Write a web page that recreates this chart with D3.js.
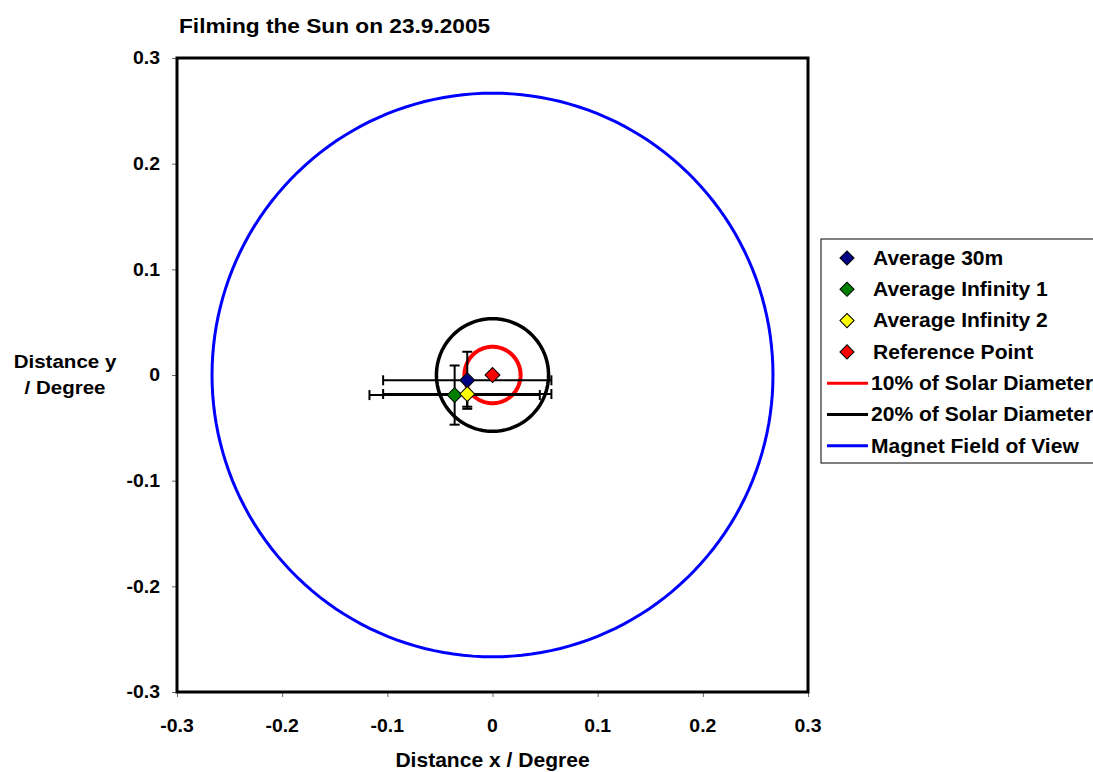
<!DOCTYPE html>
<html>
<head>
<meta charset="utf-8">
<script src="https://cdn.jsdelivr.net/npm/d3@7/dist/d3.min.js"></script>
<style>
  html, body { margin: 0; padding: 0; background: #fff; }
  svg { display: block; font-family: "Liberation Sans", Arial, sans-serif; font-weight: bold; }
</style>
</head>
<body>
<svg id="chart" width="1093" height="772"></svg>
<script>
// Measured pointing offsets (degrees) with their spread
const seriesNames = ["Average 30m", "Average Infinity 1", "Average Infinity 2", "Reference Point"];
const seriesColors = ["#000080", "#008000", "#ffff00", "#ff0000"];
const xValues = [-0.024, -0.036, -0.024, 0];
const yValues = [-0.005, -0.019, -0.018, 0];
const xErrors = [0.080, 0.081, 0.080, 0];
const yErrors = [0.027, 0.028, 0.012, 0];

// Reference circles around the centre (radius in degrees)
const circleNames = ["10% of Solar Diameter", "20% of Solar Diameter", "Magnet Field of View"];
const circleRadii = [0.0267, 0.0533, 0.2667];
const circleColors = ["#ff0000", "#000000", "#0000ff"];
const circleWidths = [4, 3.5, 3];

const tickValues = [-0.3, -0.2, -0.1, 0, 0.1, 0.2, 0.3];
const tickLabels = ["-0.3", "-0.2", "-0.1", "0", "0.1", "0.2", "0.3"];

const svg = d3.select("#chart");
const plot = { left: 177, right: 808, top: 58, bottom: 692 };
const stretch = 1.08;   // slightly wide lettering

const x = d3.scaleLinear().domain([-0.3, 0.3]).range([plot.left, plot.right]);
const y = d3.scaleLinear().domain([-0.3, 0.3]).range([plot.bottom, plot.top]);

// Places a text at (tx, ty) with the wide lettering applied around its anchor
function label(parent, tx, ty, str, size, anchor = "start", dy = null) {
  const t = parent.append("text")
    .attr("transform", `translate(${tx},${ty}) scale(${stretch},1)`)
    .attr("font-size", size)
    .attr("text-anchor", anchor)
    .text(str);
  if (dy) t.attr("dy", dy);
  return t;
}

// Title
label(svg, 179, 33, "Filming the Sun on 23.9.2005", 21);

// Axes (ticks only; labels placed separately)
const xAxis = svg.append("g")
  .attr("transform", `translate(0,${plot.bottom})`)
  .call(d3.axisBottom(x).tickValues(tickValues).tickFormat("").tickSize(5));
const yAxis = svg.append("g")
  .attr("transform", `translate(${plot.left},0)`)
  .call(d3.axisLeft(y).tickValues(tickValues).tickFormat("").tickSize(5));
[xAxis, yAxis].forEach(g => {
  g.select(".domain").remove();
  g.selectAll(".tick line").attr("stroke", "#666").attr("stroke-width", 1);
});
tickValues.forEach((v, i) => {
  label(svg, x(v), 732, tickLabels[i], 18, "middle");
  label(svg, 160, y(v), tickLabels[i], 18, "end", "0.35em");
});

// Axis titles
label(svg, x(0), 767, "Distance x / Degree", 19.5, "middle");
label(svg, 65, 368, "Distance y", 19, "middle");
label(svg, 65, 394, "/ Degree", 19, "middle");

// Circles drawn as closed lines through the scales
const angles = d3.range(0, 361, 2).map(a => a * Math.PI / 180);
const circleLine = d3.line().x(d => x(d[0])).y(d => y(d[1]));
circleRadii.forEach((r, i) => {
  svg.append("path")
    .attr("d", circleLine(angles.map(a => [r * Math.cos(a), r * Math.sin(a)])))
    .attr("fill", "none")
    .attr("stroke", circleColors[i])
    .attr("stroke-width", circleWidths[i]);
});

// Error bars
const cap = 5;
const eb = svg.append("g").attr("stroke", "#000").attr("stroke-width", 2);
seriesNames.forEach((name, i) => {
  if (xErrors[i] > 0) {
    const x0 = x(xValues[i] - xErrors[i]), x1 = x(xValues[i] + xErrors[i]), yy = y(yValues[i]);
    eb.append("line").attr("x1", x0).attr("x2", x1).attr("y1", yy).attr("y2", yy);
    eb.append("line").attr("x1", x0).attr("x2", x0).attr("y1", yy - cap).attr("y2", yy + cap);
    eb.append("line").attr("x1", x1).attr("x2", x1).attr("y1", yy - cap).attr("y2", yy + cap);
  }
  if (yErrors[i] > 0) {
    const y0 = y(yValues[i] - yErrors[i]), y1 = y(yValues[i] + yErrors[i]), xx = x(xValues[i]);
    eb.append("line").attr("x1", xx).attr("x2", xx).attr("y1", y0).attr("y2", y1);
    eb.append("line").attr("x1", xx - cap).attr("x2", xx + cap).attr("y1", y0).attr("y2", y0);
    eb.append("line").attr("x1", xx - cap).attr("x2", xx + cap).attr("y1", y1).attr("y2", y1);
  }
});

// Diamond markers
const diamond = d3.symbol().type(d3.symbolSquare).size(112);
seriesNames.forEach((name, i) => {
  svg.append("path")
    .attr("d", diamond())
    .attr("transform", `translate(${x(xValues[i])},${y(yValues[i])}) rotate(45)`)
    .attr("fill", seriesColors[i])
    .attr("stroke", "#000").attr("stroke-width", 1);
});

// Plot frame
svg.append("rect")
  .attr("x", plot.left).attr("y", plot.top)
  .attr("width", plot.right - plot.left).attr("height", plot.bottom - plot.top)
  .attr("fill", "none").attr("stroke", "#000").attr("stroke-width", 3);

// Legend
const legend = svg.append("g");
legend.append("rect")
  .attr("x", 821).attr("y", 239).attr("width", 300).attr("height", 224)
  .attr("fill", "#fff").attr("stroke", "#000").attr("stroke-width", 1);
const rowY = i => 258 + i * 31.3;
seriesNames.forEach((name, i) => {
  legend.append("path")
    .attr("d", d3.symbol().type(d3.symbolSquare).size(100)())
    .attr("transform", `translate(847,${rowY(i)}) rotate(45)`)
    .attr("fill", seriesColors[i]).attr("stroke", "#000").attr("stroke-width", 1);
  label(legend, 873, rowY(i), name, 19.5, "start", "0.35em");
});
circleNames.forEach((name, j) => {
  const i = j + seriesNames.length;
  legend.append("line")
    .attr("x1", 827).attr("x2", 868).attr("y1", rowY(i)).attr("y2", rowY(i))
    .attr("stroke", circleColors[j]).attr("stroke-width", 3);
  label(legend, 871, rowY(i), name, 19.5, "start", "0.35em");
});
</script>
</body>
</html>
